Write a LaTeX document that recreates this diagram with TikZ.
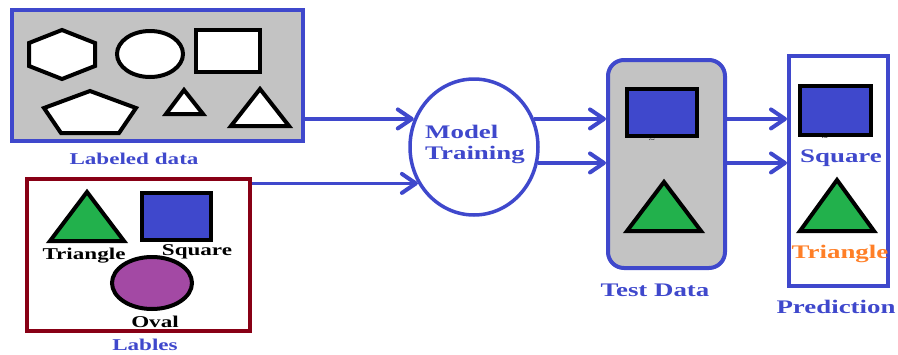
\documentclass[tikz,border=0pt]{standalone}
\usepackage{fontspec}
\setmainfont[FakeStretch=1.4]{Liberation Serif}
\usetikzlibrary{arrows.meta,shapes.geometric}
\definecolor{rblue}{HTML}{3F48CC}
\definecolor{boxgray}{HTML}{C3C3C3}
\definecolor{sgreen}{HTML}{22B14C}
\definecolor{spurple}{HTML}{A349A4}
\definecolor{darkred}{HTML}{880015}
\definecolor{sorange}{HTML}{FF7F27}
\tikzset{
  box/.style={draw=rblue,line width=4pt,inner sep=0pt},
  shapeline/.style={draw=black,line width=4pt},
  flow/.style={draw=rblue,line width=3.3pt,-{Straight Barb[length=14pt,width=19pt,line width=4pt,round]}},
  smalltext/.style={font=\bfseries\fontsize{16.5}{18}\selectfont,inner sep=0pt,anchor=base},
  bigtext/.style={font=\bfseries\fontsize{19.2}{22}\selectfont,inner sep=0pt,anchor=base},
  tildemark/.style={font=\fontsize{8}{8}\selectfont,inner sep=0pt}
}
\begin{document}
\begin{tikzpicture}[x=1pt,y=-1pt]
\useasboundingbox (0,0) rectangle (898,354);

% containers
\node[box,fill=boxgray,minimum width=291pt,minimum height=131pt] (labeled) at (157.5,75.5) {};
\node[draw=darkred,line width=3.5pt,fill=white,inner sep=0pt,minimum width=223pt,minimum height=152pt] (lables) at (138.5,255) {};
\node[ellipse,draw=rblue,line width=3.5pt,fill=white,inner sep=0pt,minimum width=128pt,minimum height=136pt] (mt) at (474,147) {};
\node[box,fill=boxgray,rounded corners=16pt,minimum width=117pt,minimum height=208pt] (test) at (666.5,164) {};
\node[box,fill=white,minimum width=99pt,minimum height=230pt] (pred) at (838.5,171) {};

% unlabeled shapes
\draw[shapeline,fill=white] (62,30) -- (95,43) -- (95,66) -- (62,79) -- (29,66) -- (29,43) -- cycle;
\draw[shapeline,fill=white] (150,54) ellipse [x radius=33, y radius=23];
\draw[shapeline,fill=white] (196,30) rectangle (260,72);
\draw[shapeline,fill=white] (90,91) -- (136,108) -- (119,133) -- (61,133) -- (44,108) -- cycle;
\draw[shapeline,fill=white] (184,90) -- (203,114) -- (166,114) -- cycle;
\draw[shapeline,fill=white] (260,89) -- (289,126) -- (231,126) -- cycle;

% label examples
\draw[shapeline,fill=sgreen] (87,192) -- (124,241) -- (50,241) -- cycle;
\draw[shapeline,fill=rblue] (142,193) rectangle (211,240);
\draw[shapeline,fill=spurple] (152,283) ellipse [x radius=40, y radius=26];

% test data shapes
\draw[shapeline,fill=rblue] (627,89) rectangle (697,136);
\node[tildemark] (tm1) at (652,141) {\textasciitilde};
\draw[shapeline,fill=sgreen] (664,182) -- (701,231) -- (627,231) -- cycle;

% predicted shapes
\draw[shapeline,fill=rblue] (800,86) rectangle (871,135);
\node[tildemark] (tm2) at (825,139) {\textasciitilde};
\draw[shapeline,fill=sgreen] (837,180) -- (874,231) -- (800,231) -- cycle;

% texts
\node[smalltext,text=rblue] (t1) at (134,164) {Labeled data};
\node[smalltext] (t2) at (84,259) {Triangle};
\node[smalltext] (t3) at (197,255) {Square};
\node[smalltext] (t4) at (155,327) {Oval};
\node[smalltext,text=rblue] (t5) at (145,350) {Lables};
\node[bigtext,text=rblue,anchor=base west] (t6) at (425,138) {Model};
\node[bigtext,text=rblue,anchor=base west] (t7) at (425,159) {Training};
\node[bigtext,text=rblue] (t8) at (655,296) {Test Data};
\node[bigtext,text=rblue] (t9) at (841,162) {Square};
\node[bigtext,text=sorange] (t10) at (840,258) {Triangle};
\node[bigtext,text=rblue] (t11) at (836,313) {Prediction};

% flow arrows
\draw[flow] (labeled.east |- mt.155) -- (mt.155);
\draw[flow] (lables.east |- mt.213) -- (mt.213);
\draw[flow] (mt.25) -- (test.west |- mt.25);
\draw[flow] (mt.-14) -- (test.west |- mt.-14);
\draw[flow] (test.east |- mt.25) -- (pred.west |- mt.25);
\draw[flow] (test.east |- mt.-14) -- (pred.west |- mt.-14);
\end{tikzpicture}
\end{document}
